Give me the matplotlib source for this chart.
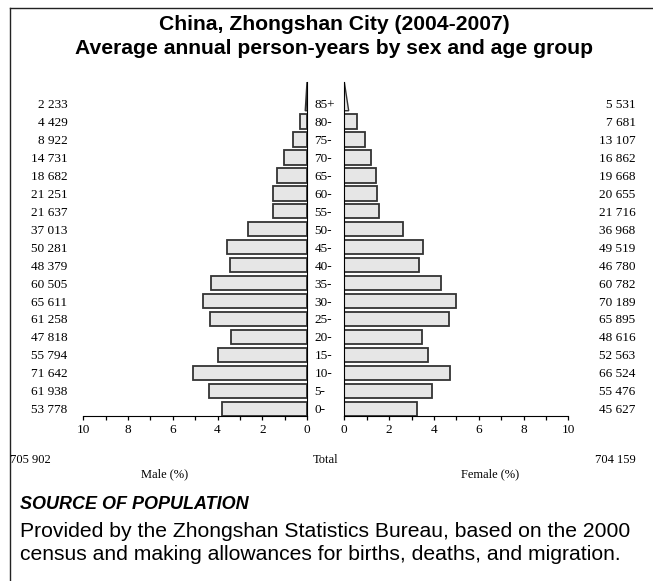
import matplotlib
matplotlib.use("Agg")
import matplotlib.pyplot as plt
import matplotlib.transforms as mtransforms
from matplotlib.patches import Polygon
from matplotlib.ticker import MultipleLocator
import numpy as np

# ---------------- data ----------------
age_groups = ["0-", "5-", "10-", "15-", "20-", "25-", "30-", "35-", "40-", "45-",
              "50-", "55-", "60-", "65-", "70-", "75-", "80-", "85+"]
male_counts = [53778, 61938, 71642, 55794, 47818, 61258, 65611, 60505, 48379, 50281,
               37013, 21637, 21251, 18682, 14731, 8922, 4429, 2233]
female_counts = [45627, 55476, 66524, 52563, 48616, 65895, 70189, 60782, 46780, 49519,
                 36968, 21716, 20655, 19668, 16862, 13107, 7681, 5531]
male_total = 705902
female_total = 704159
tick_values = [0, 2, 4, 6, 8, 10]

title_lines = ["China, Zhongshan City (2004-2007)",
               "Average annual person-years by sex and age group"]
source_head = "SOURCE OF POPULATION"
source_text = ["Provided by the Zhongshan Statistics Bureau, based on the 2000",
               "census and making allowances for births, deaths, and migration."]

grand_total = male_total + female_total
male_pct = np.array(male_counts) / grand_total * 100
female_pct = np.array(female_counts) / grand_total * 100

def fmt(n):
    return f"{n:,}".replace(",", " ")

# ---------------- layout ----------------
W, H = 653, 581
fig = plt.figure(figsize=(W / 100, H / 100), dpi=100)

def fx(px):
    return px / W

def fy(py):
    return 1 - py / H

SERIF = ["Liberation Serif", "DejaVu Serif"]
SANS = ["Liberation Sans", "DejaVu Sans"]

ax_top, ax_bot = 82, 416
axL = fig.add_axes([fx(83.3), fy(ax_bot), fx(307 - 83.3), (ax_bot - ax_top) / H])
axR = fig.add_axes([fx(344.3), fy(ax_bot), fx(568.3 - 344.3), (ax_bot - ax_top) / H])

y = np.arange(len(age_groups))
bar_h = 0.8
face = "#e6e6e6"
edge = "#333333"

n = len(age_groups)
axL.barh(y[:-1], male_pct[:-1], height=bar_h, color=face, edgecolor=edge, linewidth=1.3)
axR.barh(y[:-1], female_pct[:-1], height=bar_h, color=face, edgecolor=edge, linewidth=1.3)

ylim = (-0.4, 18.2)
# open-ended top group drawn as a wedge
base = n - 1 - bar_h / 2
axL.add_patch(Polygon([(0, base), (male_pct[-1] * 0.5, base), (0, ylim[1])],
                      closed=True, facecolor=face, edgecolor=edge, linewidth=1.0))
axR.add_patch(Polygon([(0, base), (female_pct[-1] * 0.5, base), (0, ylim[1])],
                      closed=True, facecolor=face, edgecolor=edge, linewidth=1.0))

for ax in (axL, axR):
    ax.set_ylim(*ylim)
    ax.set_xlim(0, 10)
    ax.set_yticks([])
    ax.xaxis.set_minor_locator(MultipleLocator(1))
    ax.set_xticks(tick_values)
    ax.set_xticklabels([str(v) for v in tick_values], fontfamily=SERIF, fontsize=9.5)
    ax.tick_params(axis="x", which="both", direction="out", length=3, width=0.9, pad=3)
    ax.spines["top"].set_visible(False)
    ax.patch.set_alpha(0)

axL.invert_xaxis()
axL.spines["left"].set_visible(False)
axR.spines["right"].set_visible(False)

# labels
trL = mtransforms.blended_transform_factory(fig.transFigure, axL.transData)
for i, lab in enumerate(age_groups):
    axL.text(fx(314.5), i - 0.08, lab, transform=trL, ha="left", va="center",
             fontfamily=SERIF, fontsize=9.5)
    axL.text(fx(67.5), i - 0.08, fmt(male_counts[i]), transform=trL, ha="right",
             va="center", fontfamily=SERIF, fontsize=9.5)
    axL.text(fx(635.5), i - 0.08, fmt(female_counts[i]), transform=trL, ha="right",
             va="center", fontfamily=SERIF, fontsize=9.5)

# totals and axis titles
fig.text(fx(10), fy(460), fmt(male_total), ha="left", va="center", fontfamily=SERIF, fontsize=9)
fig.text(fx(326), fy(460), "Total", ha="center", va="center", fontfamily=SERIF, fontsize=9)
fig.text(fx(635.5), fy(460), fmt(female_total), ha="right", va="center", fontfamily=SERIF, fontsize=9)
fig.text(fx(165), fy(474), "Male (%)", ha="center", va="center", fontfamily=SERIF, fontsize=9)
fig.text(fx(490), fy(474), "Female (%)", ha="center", va="center", fontfamily=SERIF, fontsize=9)

# title
fig.text(fx(334), fy(30.5), title_lines[0], ha="center", va="baseline", fontfamily=SANS,
         fontsize=15.2, fontweight="bold")
fig.text(fx(334), fy(53.5), title_lines[1], ha="center", va="baseline", fontfamily=SANS,
         fontsize=15.2, fontweight="bold")

# source
fig.text(fx(20), fy(509), source_head, ha="left", va="baseline", fontfamily=SANS,
         fontsize=13, fontweight="bold", fontstyle="italic")
fig.text(fx(20), fy(537), source_text[0], ha="left", va="baseline", fontfamily=SANS, fontsize=15.2)
fig.text(fx(20), fy(560), source_text[1], ha="left", va="baseline", fontfamily=SANS, fontsize=15.2)

# frame
fig.add_artist(plt.Line2D([fx(10), fx(10)], [fy(8), 0], transform=fig.transFigure,
                          color="#222222", linewidth=1.0))
fig.add_artist(plt.Line2D([fx(10), 1], [fy(8), fy(8)], transform=fig.transFigure,
                          color="#222222", linewidth=1.0))

fig.savefig("out.png", dpi=100)
